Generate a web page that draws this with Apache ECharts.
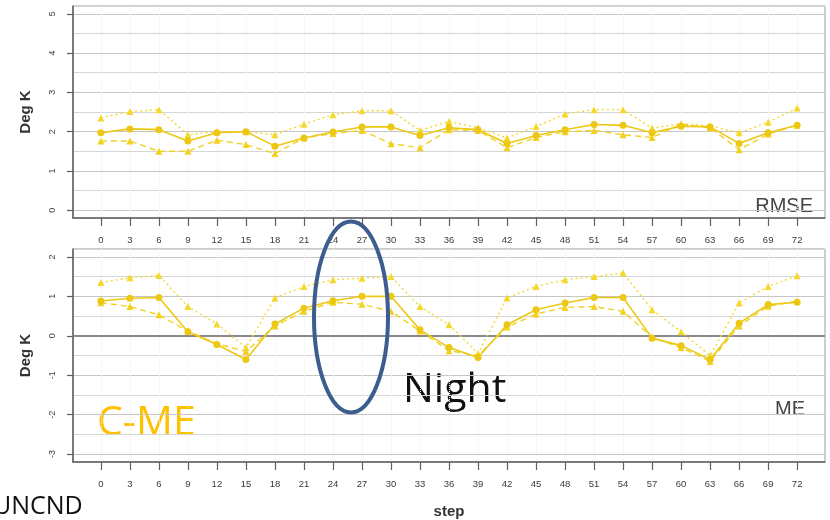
<!DOCTYPE html>
<html>
<head>
<meta charset="utf-8">
<script src="https://cdn.jsdelivr.net/npm/echarts@6/dist/echarts.min.js"></script>
<style>
  html, body { margin: 0; padding: 0; background: #ffffff; }
  #chart { width: 830px; height: 520px; }
</style>
</head>
<body>
<div id="chart"></div>
<script>
// Forecast step (hours)
const steps = [0, 3, 6, 9, 12, 15, 18, 21, 24, 27, 30, 33, 36, 39, 42, 45, 48, 51, 54, 57, 60, 63, 66, 69, 72];

// RMSE panel (Deg K)
const rmseHigh = [2.35, 2.51, 2.56, 1.92, 2.0, 2.0, 1.92, 2.19, 2.43, 2.53, 2.53, 2.03, 2.26, 2.1, 1.84, 2.13, 2.45, 2.56, 2.56, 2.09, 2.2, 2.15, 1.97, 2.24, 2.6];
const rmseMid  = [1.97, 2.07, 2.05, 1.76, 1.97, 2.0, 1.63, 1.84, 1.99, 2.12, 2.12, 1.9, 2.1, 2.05, 1.7, 1.9, 2.05, 2.18, 2.16, 1.97, 2.14, 2.12, 1.7, 1.97, 2.16];
const rmseLow  = [1.76, 1.76, 1.5, 1.5, 1.78, 1.67, 1.44, 1.84, 1.95, 2.03, 1.69, 1.59, 2.05, 2.03, 1.59, 1.85, 2.0, 2.03, 1.92, 1.85, 2.19, 2.1, 1.54, 1.94, 2.16];

// ME panel (Deg K)
const meHigh = [1.35, 1.47, 1.53, 0.74, 0.3, -0.3, 0.96, 1.25, 1.42, 1.46, 1.5, 0.74, 0.28, -0.45, 0.96, 1.25, 1.42, 1.5, 1.59, 0.66, 0.1, -0.5, 0.83, 1.25, 1.52];
const meMid  = [0.88, 0.95, 0.97, 0.1, -0.22, -0.6, 0.3, 0.7, 0.89, 1.0, 1.0, 0.15, -0.3, -0.55, 0.28, 0.66, 0.83, 0.97, 0.97, -0.06, -0.25, -0.6, 0.32, 0.79, 0.85];
const meLow  = [0.84, 0.74, 0.53, 0.12, -0.2, -0.4, 0.25, 0.62, 0.85, 0.8, 0.62, 0.12, -0.38, -0.5, 0.22, 0.55, 0.72, 0.74, 0.62, -0.04, -0.3, -0.65, 0.25, 0.75, 0.88];

// Tick labels
const rmseTicks = [0, 1, 2, 3, 4, 5];
const meTicks = [-3, -2, -1, 0, 1, 2];
const stepTicks = steps;

const pairs = (arr) => steps.map((s, i) => [s, arr[i]]);

const labelFont = { fontFamily: 'Liberation Sans', color: '#3a3a3a' };
const frameColor = '#5e5e5e';

function xAxisFor(gridIndex, withName) {
  return {
    type: 'value', gridIndex, position: 'bottom',
    min: -2.88, max: 74.88,
    name: withName ? 'step' : '',
    nameLocation: 'middle', nameGap: 42,
    nameTextStyle: { fontFamily: 'Liberation Sans', fontWeight: 'bold', fontSize: 15, color: '#333' },
    axisLine: { show: true, onZero: false, lineStyle: { color: frameColor, width: 1.5 } },
    axisTick: { show: true, length: 8, customValues: stepTicks, lineStyle: { color: frameColor, width: 1.2 } },
    axisLabel: { customValues: stepTicks, margin: 17, fontSize: 9.5, ...labelFont },
    splitLine: { show: true, lineStyle: { color: '#efefef', type: 'dotted', width: 1 } }
  };
}

function yAxisFor(gridIndex, lo, hi, ticks) {
  return {
    type: 'value', gridIndex, position: 'left',
    min: lo, max: hi,
    name: 'Deg K', nameLocation: 'middle', nameGap: 40, nameRotate: 90,
    nameTextStyle: { fontFamily: 'Liberation Sans', fontWeight: 'bold', fontSize: 15, color: '#333' },
    axisLine: { show: true, onZero: false, lineStyle: { color: frameColor, width: 1.5 } },
    axisTick: { show: true, length: 6, customValues: ticks, lineStyle: { color: frameColor, width: 1.2 } },
    axisLabel: { customValues: ticks, rotate: 90, margin: 16, fontSize: 9, ...labelFont },
    splitLine: { show: false }
  };
}

// hidden companion axis that only carries the half-unit grid lines
function gridLineAxis(gridIndex, lo, hi) {
  return {
    type: 'value', gridIndex, position: 'right',
    min: lo, max: hi, splitNumber: 11,
    axisLine: { show: false, onZero: false }, axisTick: { show: false }, axisLabel: { show: false },
    splitLine: { show: true, lineStyle: { color: ['#d6d6d6', '#c6c6c6'], width: 1 } }
  };
}

const colMid = '#ecc814';
const colHigh = '#f4d82c';
const colLow = '#f1d220';

function makeSeries(x, y, high, mid, low, extra) {
  const base = { type: 'line', xAxisIndex: x, yAxisIndex: y, silent: true, z: 5 };
  const out = [
    Object.assign({}, base, {
      name: 'high', data: pairs(high), symbol: 'triangle', symbolSize: 7,
      lineStyle: { color: colHigh, width: 1.4, type: [2, 3] },
      itemStyle: { color: colHigh }
    }),
    Object.assign({}, base, {
      name: 'low', data: pairs(low), symbol: 'triangle', symbolSize: 7,
      lineStyle: { color: colLow, width: 1.4, type: [6, 4] },
      itemStyle: { color: colLow }
    }),
    Object.assign({}, base, {
      name: 'mid', data: pairs(mid), symbol: 'circle', symbolSize: 7,
      lineStyle: { color: colMid, width: 1.6 },
      itemStyle: { color: colMid }
    })
  ];
  if (extra) Object.assign(out[2], extra);
  return out;
}

const chart = echarts.init(document.getElementById('chart'), null, { renderer: 'canvas' });

chart.setOption({
  backgroundColor: '#ffffff',
  animation: false,
  grid: [
    { left: 73, top: 6, right: 5, height: 212, show: true, borderColor: '#9a9a9a', borderWidth: 1, backgroundColor: '#ffffff', outerBoundsMode: 'none' },
    { left: 73, top: 249, right: 5, height: 213, show: true, borderColor: '#9a9a9a', borderWidth: 1, backgroundColor: '#ffffff', outerBoundsMode: 'none' }
  ],
  xAxis: [xAxisFor(0, false), xAxisFor(1, true)],
  yAxis: [
    yAxisFor(0, -0.2, 5.2, rmseTicks),
    yAxisFor(1, -3.2, 2.2, meTicks),
    gridLineAxis(0, -0.2, 5.2),
    gridLineAxis(1, -3.2, 2.2)
  ],
  series: [
    ...makeSeries(0, 0, rmseHigh, rmseMid, rmseLow),
    ...makeSeries(1, 1, meHigh, meMid, meLow, {
      markLine: {
        silent: true, symbol: 'none', label: { show: false },
        lineStyle: { color: '#8a8a8a', width: 2, type: 'solid' },
        data: [{ yAxis: 0 }], z: 2
      }
    })
  ],
  graphic: [
    { type: 'text', right: 17, top: 196, style: { text: 'RMSE', font: '20px "Liberation Sans"', fill: '#444' } },
    { type: 'text', right: 25, top: 399, style: { text: 'ME', font: '20px "Liberation Sans"', fill: '#444' } },
    { type: 'text', left: 97, top: 403, style: { text: 'C-ME', font: '41px "Open Sans"', fill: '#ffc000' } },
    { type: 'text', left: 403, top: 370, style: { text: 'Night', font: '41px "Open Sans"', fill: '#111' } },
    { type: 'text', left: -7, top: 494, style: { text: 'UNCND', font: '25px "Open Sans"', fill: '#111' } },
    { type: 'ellipse', shape: { cx: 351, cy: 317, rx: 37, ry: 95.5 }, style: { fill: 'none', stroke: '#3d5d8e', lineWidth: 4 }, z: 100 }
  ]
});
</script>
</body>
</html>
